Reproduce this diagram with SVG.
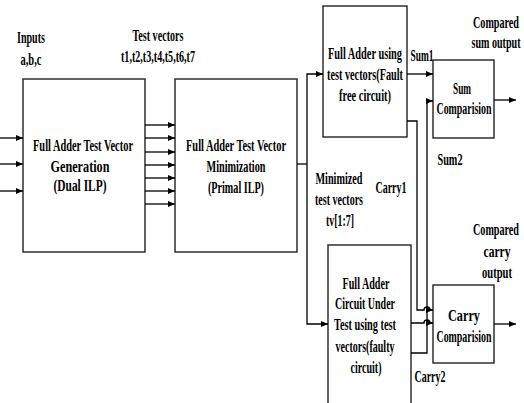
<svg xmlns="http://www.w3.org/2000/svg" width="524" height="403" viewBox="0 0 524 403">
<defs>
<marker id="ah" markerUnits="userSpaceOnUse" markerWidth="8" markerHeight="7" refX="7" refY="3" orient="auto">
<path d="M0,0 L7,3 L0,6 z" fill="#000"/>
</marker>
<style>
.b{fill:#fff;stroke:#222;stroke-width:1.4}
.c{fill:none;stroke:#000;stroke-width:1.3}
.a{marker-end:url(#ah)}
text{font-family:"Liberation Serif","Times New Roman",serif;font-weight:bold;font-size:16.5px;fill:#000;text-anchor:middle}
</style>
</defs>
<rect width="524" height="403" fill="#fff"/>

<g id="labels">
<g transform="scale(0.66 1)">
<text x="46.97" y="43" textLength="42.42" lengthAdjust="spacingAndGlyphs">Inputs</text>
<text x="46.97" y="65" textLength="31.82" lengthAdjust="spacingAndGlyphs">a,b,c</text>
<text x="239.39" y="41" textLength="77.27" lengthAdjust="spacingAndGlyphs">Test vectors</text>
<text x="239.39" y="62" textLength="112.12" lengthAdjust="spacingAndGlyphs">t1,t2,t3,t4,t5,t6,t7</text>
<text x="513.64" y="184" textLength="71.21" lengthAdjust="spacingAndGlyphs">Minimized</text>
<text x="513.64" y="205" textLength="72.73" lengthAdjust="spacingAndGlyphs">test vectors</text>
<text x="515.15" y="226" textLength="42.42" lengthAdjust="spacingAndGlyphs">tv[1:7]</text>
<text x="592.42" y="193" textLength="46.97" lengthAdjust="spacingAndGlyphs">Carry1</text>
<text x="639.39" y="61" textLength="34.85" lengthAdjust="spacingAndGlyphs">Sum1</text>
<text x="681.82" y="165" textLength="37.88" lengthAdjust="spacingAndGlyphs">Sum2</text>
<text x="651.52" y="382" textLength="46.97" lengthAdjust="spacingAndGlyphs">Carry2</text>
<text x="751.52" y="28" textLength="69.70" lengthAdjust="spacingAndGlyphs">Compared</text>
<text x="751.52" y="48" textLength="74.24" lengthAdjust="spacingAndGlyphs">sum output</text>
<text x="751.52" y="235" textLength="69.70" lengthAdjust="spacingAndGlyphs">Compared</text>
<text x="753.03" y="257" textLength="40.91" lengthAdjust="spacingAndGlyphs">carry</text>
<text x="753.03" y="278" textLength="45.45" lengthAdjust="spacingAndGlyphs">output</text>
</g>
</g>

<g id="gen">
<rect class="b" x="23" y="79" width="122" height="173"/>
<g transform="scale(0.66 1)">
<text x="125.76" y="151" textLength="151.52" lengthAdjust="spacingAndGlyphs">Full Adder Test Vector</text>
<text x="121.21" y="172" textLength="89.39" lengthAdjust="spacingAndGlyphs">Generation</text>
<text x="121.21" y="191" textLength="80.30" lengthAdjust="spacingAndGlyphs">(Dual ILP)</text>
</g>
</g>

<g id="min">
<rect class="b" x="175" y="79" width="122" height="173"/>
<g transform="scale(0.66 1)">
<text x="357.58" y="151" textLength="151.52" lengthAdjust="spacingAndGlyphs">Full Adder Test Vector</text>
<text x="357.58" y="172" textLength="89.39" lengthAdjust="spacingAndGlyphs">Minimization</text>
<text x="357.58" y="193" textLength="84.85" lengthAdjust="spacingAndGlyphs">(Primal ILP)</text>
</g>
</g>

<g id="faultfree">
<rect class="b" x="323" y="6" width="84" height="131"/>
<g transform="scale(0.66 1)">
<text x="553.03" y="59" textLength="112.12" lengthAdjust="spacingAndGlyphs">Full Adder using</text>
<text x="553.03" y="80" textLength="115.15" lengthAdjust="spacingAndGlyphs">test vectors(Fault</text>
<text x="553.03" y="101" textLength="78.79" lengthAdjust="spacingAndGlyphs">free circuit)</text>
</g>
</g>

<g id="cut">
<rect class="b" x="328" y="245" width="83" height="170"/>
<g transform="scale(0.66 1)">
<text x="554.55" y="289" textLength="71.21" lengthAdjust="spacingAndGlyphs">Full Adder</text>
<text x="553.03" y="309" textLength="90.91" lengthAdjust="spacingAndGlyphs">Circuit Under</text>
<text x="553.03" y="330" textLength="93.94" lengthAdjust="spacingAndGlyphs">Test using test</text>
<text x="553.03" y="352" textLength="89.39" lengthAdjust="spacingAndGlyphs">vectors(faulty</text>
<text x="554.55" y="373" textLength="46.97" lengthAdjust="spacingAndGlyphs">circuit)</text>
</g>
</g>

<g id="sumcmp">
<rect class="b" x="433" y="60" width="61" height="78"/>
<g transform="scale(0.66 1)">
<text x="700" y="94" textLength="27.27" lengthAdjust="spacingAndGlyphs">Sum</text>
<text x="703.03" y="114" textLength="83.33" lengthAdjust="spacingAndGlyphs">Comparision</text>
</g>
</g>

<g id="carrycmp">
<rect class="b" x="433" y="285" width="61" height="78"/>
<g transform="scale(0.66 1)">
<text x="703.03" y="321" textLength="48.48" lengthAdjust="spacingAndGlyphs">Carry</text>
<text x="703.03" y="342" textLength="83.33" lengthAdjust="spacingAndGlyphs">Comparision</text>
</g>
</g>

<g id="connectors">
<path class="c a" d="M0,138 H23"/>
<path class="c a" d="M0,164 H23"/>
<path class="c a" d="M0,191 H23"/>
<path class="c a" d="M145,125 H175"/>
<path class="c a" d="M145,138 H175"/>
<path class="c a" d="M145,152 H175"/>
<path class="c a" d="M145,165 H175"/>
<path class="c a" d="M145,178 H175"/>
<path class="c a" d="M145,191 H175"/>
<path class="c a" d="M145,204 H175"/>
<path class="c" d="M297,164 H307"/>
<path class="c a" d="M307,164 V74 H323"/>
<path class="c a" d="M307,164 V324 H328"/>
<path class="c a" d="M407,74 H433"/>
<path class="c a" d="M411,353 H427 V101 H433"/>
<path class="c a" d="M407,121 H417 V310 H424 a3,3 0 0 1 6,0 H433"/>
<path class="c a" d="M411,323 H424 a3,3 0 0 1 6,0 H433"/>
<path class="c a" d="M494,100 H516"/>
<path class="c a" d="M494,324 H516"/>
</g>
</svg>
